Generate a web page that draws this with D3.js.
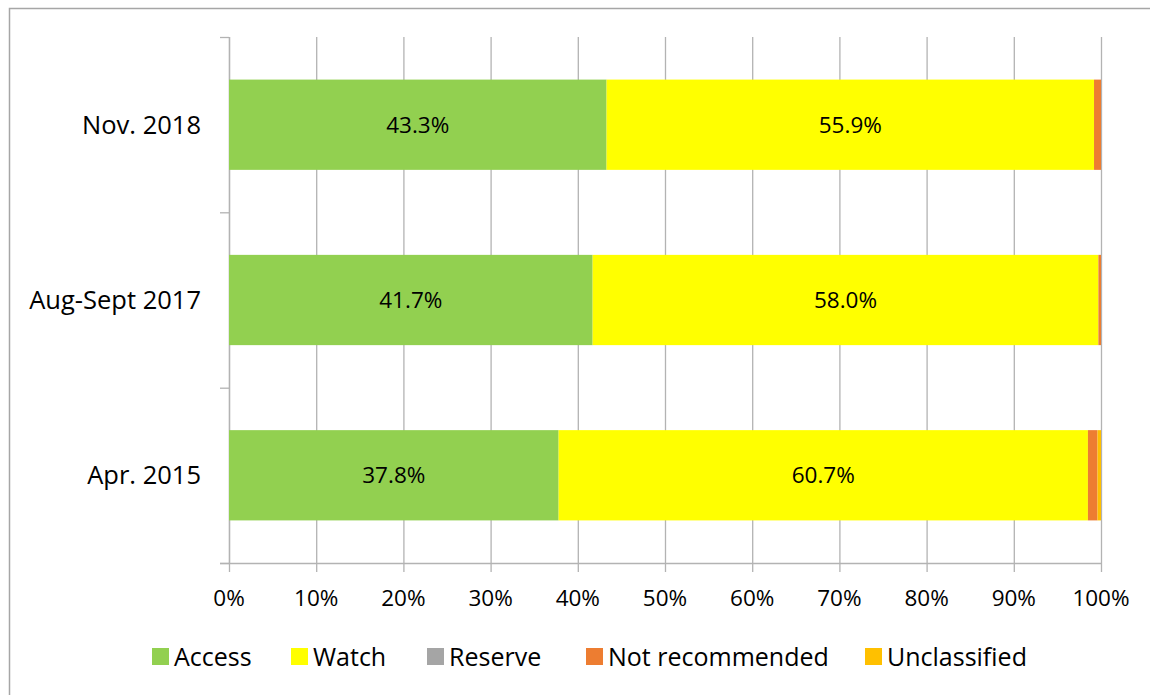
<!DOCTYPE html>
<html>
<head>
<meta charset="utf-8">
<script src="https://cdn.jsdelivr.net/npm/d3@7"></script>
<style>
body { margin: 0; background: #fff; }
text { font-family: "Open Sans", "Noto Sans", sans-serif; fill: #000; }
</style>
</head>
<body>
<div id="plot"></div>
<script>
var width = 1150, height = 695
var periods = ['Nov. 2018', 'Aug-Sept 2017', 'Apr. 2015']
var access = [43.3, 41.7, 37.8]
var watch = [55.9, 58.0, 60.7]
var reserve = [0, 0, 0]
var notRecommended = [0.8, 0.3, 1.1]
var unclassified = [0, 0, 0.4]
var seriesNames = ['Access', 'Watch', 'Reserve', 'Not recommended', 'Unclassified']
var colours = ['#92d050', '#ffff00', '#a5a5a5', '#ed7d31', '#ffc000']
var xTicks = [0, 10, 20, 30, 40, 50, 60, 70, 80, 90, 100]

var rows = periods.map(function(p, i){
	return {period: p, Access: access[i], Watch: watch[i], Reserve: reserve[i],
		'Not recommended': notRecommended[i], Unclassified: unclassified[i]}
})
var stacked = d3.stack().keys(seriesNames)(rows)

var svg = d3.select('#plot').append('svg')
	.attr('width', width)
	.attr('height', height)

// chart frame
svg.append('rect')
	.attr('x', 9.5).attr('y', 8.5)
	.attr('width', 1160).attr('height', 700)
	.attr('fill', 'none').attr('stroke', '#a6a6a6').attr('stroke-width', 1.5)

var x = d3.scaleLinear().domain([0, 100]).range([229, 1101])
var y = d3.scaleBand().domain(periods).range([37, 563]).paddingInner(0.485).paddingOuter(0.243)
var yEdge = d3.scalePoint().domain(periods).range([37, 563]).padding(0.5)

// vertical gridlines
svg.append('g').selectAll('line').data(xTicks).join('line')
	.attr('x1', function(d){ return x(d) + 0.5 })
	.attr('x2', function(d){ return x(d) + 0.5 })
	.attr('y1', 37).attr('y2', 572)
	.attr('stroke', '#b3b3b3').attr('stroke-width', 1.3)

// category axis ticks
var catEdges = [37, 212.3, 387.7, 563]
svg.append('g').selectAll('line').data(catEdges).join('line')
	.attr('x1', 220).attr('x2', 229)
	.attr('y1', function(d){ return d + 0.5 }).attr('y2', function(d){ return d + 0.5 })
	.attr('stroke', '#b3b3b3').attr('stroke-width', 1.3)

svg.append('line')
	.attr('x1', 220).attr('x2', x(100) + 0.5)
	.attr('y1', 563.5).attr('y2', 563.5)
	.attr('stroke', '#b3b3b3').attr('stroke-width', 1.3)
svg.append('line')
	.attr('x1', 229.5).attr('x2', 229.5)
	.attr('y1', 37).attr('y2', 563.5)
	.attr('stroke', '#b3b3b3').attr('stroke-width', 1.3)

// bars
stacked.forEach(function(layer, k){
	svg.append('g').selectAll('rect').data(layer).join('rect')
		.attr('x', function(d){ return x(d[0]) })
		.attr('width', function(d){ return x(d[1]) - x(d[0]) })
		.attr('y', function(d){ return y(d.data.period) })
		.attr('height', y.bandwidth())
		.attr('fill', colours[k])
})

// value labels for Access and Watch
stacked.slice(0, 2).forEach(function(layer){
	svg.append('g').selectAll('text').data(layer).join('text')
		.attr('x', function(d){ return (x(d[0]) + x(d[1])) / 2 })
		.attr('y', function(d){ return y(d.data.period) + y.bandwidth() / 2 })
		.attr('dy', '0.35em')
		.attr('text-anchor', 'middle')
		.style('font-size', '22.5px')
		.text(function(d){ return (d[1] - d[0]).toFixed(1) + '%' })
})

// category labels
svg.append('g').selectAll('text').data(periods).join('text')
	.attr('x', 201)
	.attr('y', function(d){ return yEdge(d) })
	.attr('dy', '0.35em')
	.attr('text-anchor', 'end')
	.style('font-size', '25.5px')
	.text(function(d){ return d })

// x tick labels
svg.append('g').selectAll('text').data(xTicks).join('text')
	.attr('x', function(d){ return x(d) })
	.attr('y', 606)
	.attr('text-anchor', 'middle')
	.style('font-size', '22.5px')
	.text(function(d){ return d + '%' })

// legend
var legendX = [152, 291, 427, 586, 865]
var lg = svg.append('g').selectAll('g').data(seriesNames).join('g')
	.attr('transform', function(d, i){ return 'translate(' + legendX[i] + ',648)' })
lg.append('rect').attr('width', 17).attr('height', 17)
	.attr('fill', function(d, i){ return colours[i] })
lg.append('text').attr('x', 22).attr('y', 9).attr('dy', '0.35em')
	.style('font-size', '25px')
	.text(function(d){ return d })
</script>
</body>
</html>
